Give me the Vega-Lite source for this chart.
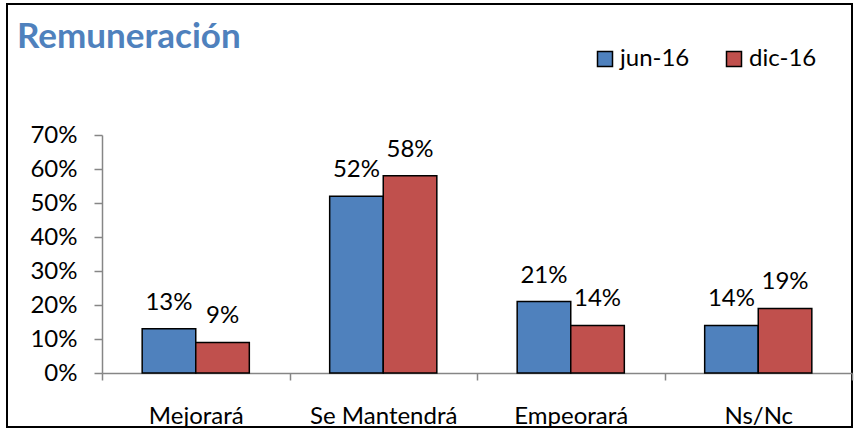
{
  "$schema": "https://vega.github.io/schema/vega-lite/v6.json",
  "width": 845,
  "height": 423,
  "autosize": {"type": "none"},
  "padding": {"left": 7, "top": 4, "right": 2, "bottom": 2},
  "background": "white",
  "config": {"view": {"stroke": "black", "strokeWidth": 2}, "font": "Lato"},
  "title": {"text": "Remuneración", "anchor": "start", "frame": "group", "fontSize": 35, "font": "Lato", "fontWeight": "bold", "color": "#4F81BD", "offset": -51, "dx": 10},
  "data": {"values": [
    {"categoria": "Mejorará", "periodo": "jun-16", "valor": 0.13},
    {"categoria": "Mejorará", "periodo": "dic-16", "valor": 0.09},
    {"categoria": "Se Mantendrá", "periodo": "jun-16", "valor": 0.52},
    {"categoria": "Se Mantendrá", "periodo": "dic-16", "valor": 0.58},
    {"categoria": "Empeorará", "periodo": "jun-16", "valor": 0.21},
    {"categoria": "Empeorará", "periodo": "dic-16", "valor": 0.14},
    {"categoria": "Ns/Nc", "periodo": "jun-16", "valor": 0.14},
    {"categoria": "Ns/Nc", "periodo": "dic-16", "valor": 0.19}
  ]},
  "encoding": {
    "x": {"field": "categoria", "type": "nominal", "sort": ["Mejorará", "Se Mantendrá", "Empeorará", "Ns/Nc"],
      "scale": {"range": [95, 845], "paddingInner": 0, "paddingOuter": 0},
      "axis": {"orient": "bottom", "offset": -54, "title": null, "labelAngle": 0, "tickBand": "extent", "tickSize": 7, "domainColor": "#868686", "tickColor": "#868686", "domainWidth": 1.5, "tickWidth": 1.5, "labelFontSize": 24, "labelFont": "Lato", "labelColor": "black", "labelPadding": 24}},
    "xOffset": {"field": "periodo", "type": "nominal", "sort": ["jun-16", "dic-16"], "scale": {"paddingInner": 0, "paddingOuter": 0.75}},
    "y": {"field": "valor", "type": "quantitative",
      "scale": {"domain": [0, 0.7], "range": [369, 131], "nice": false, "zero": true},
      "axis": {"values": [0, 0.1, 0.2, 0.3, 0.4, 0.5, 0.6, 0.7], "format": ".0%", "offset": -95, "grid": false, "title": null, "domainColor": "#868686", "tickColor": "#868686", "domainWidth": 1.5, "tickWidth": 1.5, "tickSize": 8, "labelFontSize": 24, "labelFont": "Lato", "labelColor": "black", "labelPadding": 17}}
  },
  "layer": [
    {"mark": {"type": "bar", "stroke": "black", "strokeWidth": 1.5},
     "encoding": {"color": {"field": "periodo", "type": "nominal", "sort": ["jun-16", "dic-16"],
       "scale": {"domain": ["jun-16", "dic-16"], "range": ["#4F81BD", "#C0504D"]},
       "legend": {"orient": "none", "legendX": 586, "legendY": 43, "direction": "horizontal", "title": null, "symbolType": "square", "symbolSize": 225, "symbolStrokeColor": "black", "symbolStrokeWidth": 1.5, "symbolOpacity": 1, "labelFontSize": 24, "labelFont": "Lato", "labelColor": "black", "labelOffset": 3, "columnPadding": 32, "padding": 0}}}},
    {"mark": {"type": "text", "baseline": "alphabetic", "dy": -19, "fontSize": 24, "font": "Lato", "color": "black"},
     "encoding": {"text": {"field": "valor", "type": "quantitative", "format": ".0%"}}}
  ]
}
